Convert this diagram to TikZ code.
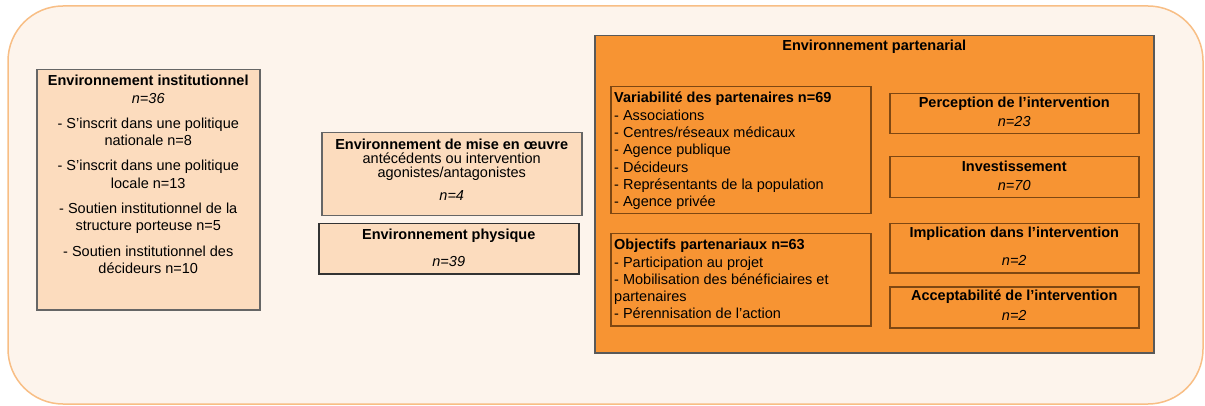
\documentclass[tikz,border=0pt]{standalone}
\usepackage{fontspec}
\setmainfont{Liberation Sans}
\usetikzlibrary{positioning}
\definecolor{cadrefond}{HTML}{FDF4EC}
\definecolor{cadrebord}{HTML}{F8BE85}
\definecolor{peche}{HTML}{FCDCBE}
\definecolor{partorange}{HTML}{F79433}
\definecolor{brun}{HTML}{7E4712}

\begin{document}
\begin{tikzpicture}[x=1pt, y=-1pt, font=\fontsize{14.5}{17.3}\selectfont,
		pechebox/.style={draw=gray!80!black, fill=peche, line width=1.5pt, anchor=north west, inner sep=0pt},
		partbox/.style={draw=brun, fill=partorange, line width=1.5pt, anchor=north west, inner sep=0pt},
		txt/.style={inner sep=0pt}]
		\useasboundingbox (0,0) rectangle (1205,406);
		\draw[cadrebord, fill=cadrefond, line width=1.5pt, rounded corners=55pt] (8,6) rectangle (1203,404);
		% environnement institutionnel
		\node[pechebox, minimum width=223, minimum height=240] (inst) at (36,69) {};
		\node[txt, align=center, anchor=north] (inst-t) at ([yshift=-6pt]inst.north) {\textbf{Environnement institutionnel}\\ \textit{n=36}\\[8pt] - S'inscrit dans une politique\\ nationale n=8\\[8pt] - S'inscrit dans une politique\\ locale n=13\\[8pt] - Soutien institutionnel de la\\ structure porteuse n=5\\[8pt] - Soutien institutionnel des\\ décideurs n=10};
		% milieu
		\node[pechebox, minimum width=260, minimum height=83] (mise) at (321,132) {};
		\node[txt, align=center, anchor=north, font=\fontsize{14.5}{14}\selectfont] (mise-t) at ([yshift=-7pt]mise.north) {\textbf{Environnement de mise en œuvre}\\ antécédents ou intervention\\ agonistes/antagonistes\\[9pt] \textit{n=4}};
		\node[pechebox, draw=black!80, minimum width=260, minimum height=50] (phys) at (318,223) {};
		\node[txt, align=center, anchor=north] (phys-t) at ([yshift=-6pt]phys.north) {\textbf{Environnement physique}\\[9pt] \textit{n=39}};
		% environnement partenarial
		\node[partbox, draw=gray!70!black, minimum width=559, minimum height=317] (part) at (594,35) {};
		\node[txt, font=\fontsize{14.5}{17.3}\selectfont\bfseries] (part-t) at ([yshift=-12pt]part.north) {Environnement partenarial};
		\node[partbox, minimum width=260, minimum height=127] (vari) at (610,86) {};
		\node[txt, align=left, anchor=north west] (vari-t) at ([xshift=4pt,yshift=-6pt]vari.north west) {\textbf{Variabilité des partenaires n=69}\\ - Associations\\ - Centres/réseaux médicaux\\ - Agence publique\\ - Décideurs\\ - Représentants de la population\\ - Agence privée};
		\node[partbox, minimum width=260, minimum height=92] (obj) at (610,233) {};
		\node[txt, align=left, anchor=north west] (obj-t) at ([xshift=4pt,yshift=-6pt]obj.north west) {\textbf{Objectifs partenariaux n=63}\\ - Participation au projet\\ - Mobilisation des bénéficiaires et\\ partenaires\\ - Pérennisation de l'action};
		\foreach \nm/\y/\h/\ttl/\num in {percep/93/40/{Perception de l’intervention}/23, invest/156/41/Investissement/70, implic/223/49/{Implication dans l’intervention}/2, accept/286/41/{Acceptabilité de l’intervention}/2}{
			\node[partbox, minimum width=249, minimum height=\h] (\nm) at (889,\y) {};
			\node[txt, font=\fontsize{14.5}{17.3}\selectfont\bfseries] (\nm-t) at ([yshift=-10.5pt]\nm.north) {\ttl};
			\node[txt] (\nm-n) at ([yshift=13pt]\nm.south) {\textit{n=\num}};
		}
\end{tikzpicture}
\end{document}
